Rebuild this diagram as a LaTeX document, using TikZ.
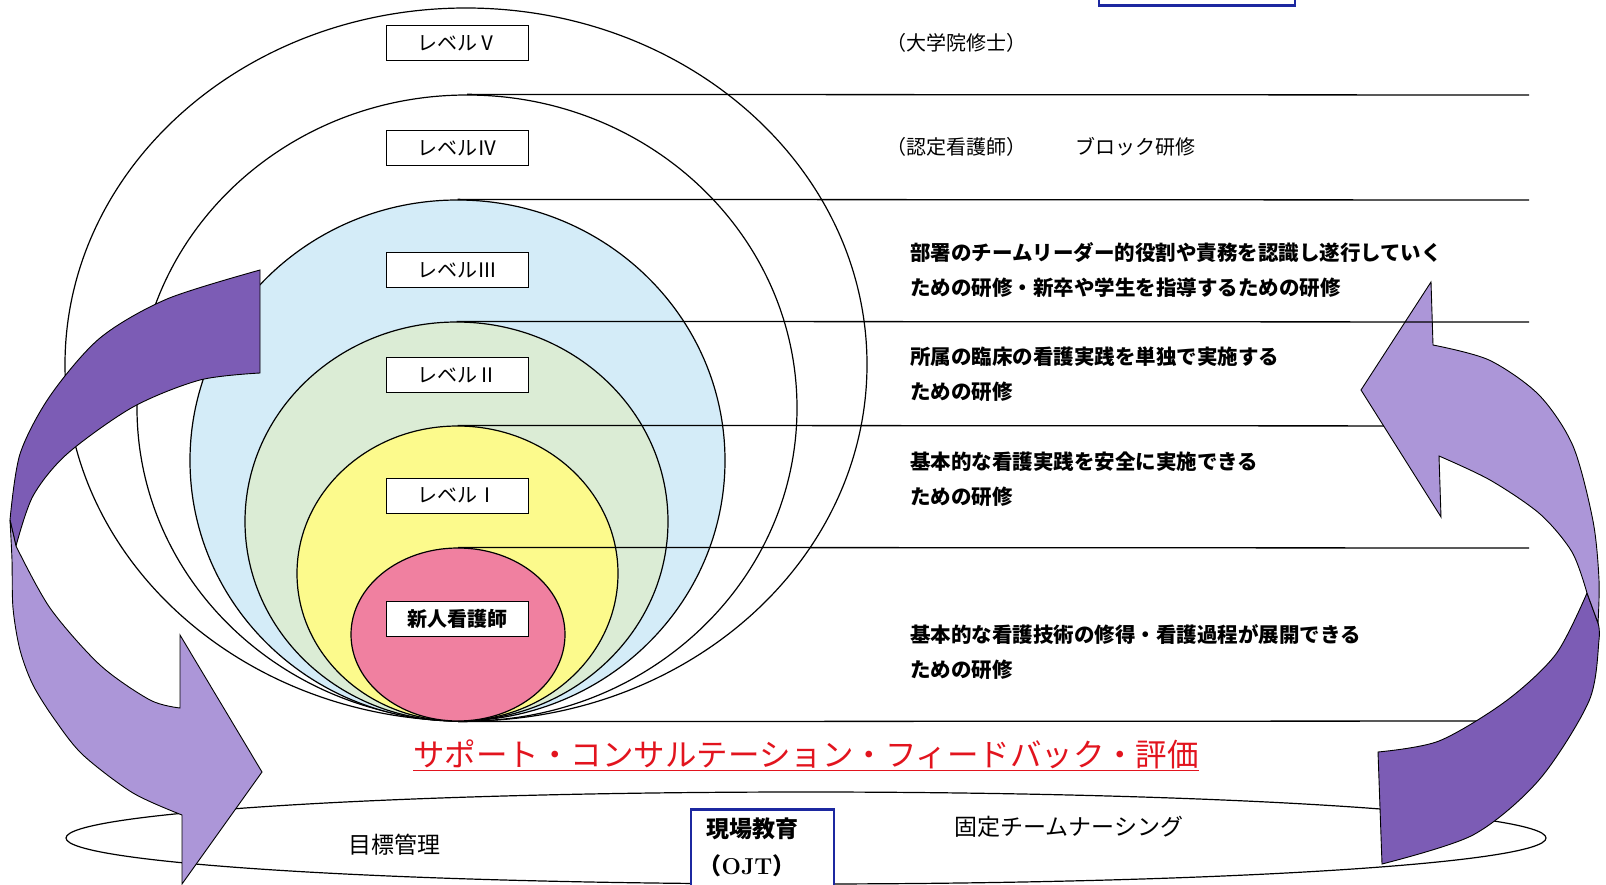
\documentclass[tikz,border=0pt]{standalone}
\usepackage{fontspec}
\newfontfamily\jpfont{Noto Sans CJK JP}
\usetikzlibrary{shapes.geometric}

\definecolor{levelblue}{RGB}{212,236,248}
\definecolor{levelgreen}{RGB}{219,236,213}
\definecolor{levelyellow}{RGB}{252,250,140}
\definecolor{levelpink}{RGB}{240,128,160}
\definecolor{arrowdark}{RGB}{124,92,181}
\definecolor{arrowlight}{RGB}{172,150,216}
\definecolor{boxblue}{RGB}{28,40,160}
\definecolor{supportred}{RGB}{226,20,30}

\begin{document}
\begin{tikzpicture}[x=1pt,y=-1pt,
    level/.style={ellipse,draw,line width=1.2pt,inner sep=0pt},
    levelbox/.style={draw,fill=white,line width=0.9pt,minimum width=142pt,minimum height=35pt,inner sep=0pt,font=\labelfontsize},
    rule/.style={line width=1.3pt},
    desc/.style={anchor=west,align=left,inner sep=0pt,font=\descfontsize},
    note/.style={anchor=west,inner sep=0pt,font=\notefontsize},
    bluebox/.style={draw=boxblue,line width=2.5pt,inner sep=0pt},
    ribbon/.style={draw=black,line width=0.9pt}]
    \pgfmathsetmacro{\lineend}{1529}
    \providecommand{\labelfontsize}{\jpfont\fontsize{20}{24}\selectfont}
    \providecommand{\descfontsize}{\jpfont\bfseries\fontsize{20.5}{35}\selectfont}
    \providecommand{\notefontsize}{\jpfont\fontsize{20}{24}\selectfont}
    \providecommand{\groundfontsize}{\jpfont\fontsize{23}{26}\selectfont}
    \providecommand{\supportfontsize}{\jpfont\fontsize{31.5}{36}\selectfont}
    \fill[white] (0,0) rectangle (1606,885);
    \useasboundingbox (0,0) rectangle (1606,885);
    % levels, largest first
    \node[level,fill=white,minimum width=802pt,minimum height=713pt] (lvV) at (466,364.5) {};
    \node[level,fill=white,minimum width=660pt,minimum height=626pt] (lvIV) at (467,408) {};
    \node[level,fill=levelblue,minimum width=535pt,minimum height=521pt] (lvIII) at (457.5,460.5) {};
    \node[level,fill=levelgreen,minimum width=423pt,minimum height=399pt] (lvII) at (456.5,521.5) {};
    \node[level,fill=levelyellow,minimum width=321pt,minimum height=295pt] (lvI) at (457.5,573.5) {};
    \node[level,fill=levelpink,minimum width=214pt,minimum height=173pt] (lvN) at (458,634.5) {};
    \node[levelbox] (boxV) at (457,43) {レベルⅤ};
    \node[levelbox] (boxIV) at (457,148) {レベルⅣ};
    \node[levelbox] (boxIII) at (457,270) {レベルⅢ};
    \node[levelbox] (boxII) at (457,375) {レベルⅡ};
    \node[levelbox] (boxI) at (457,495.5) {レベルⅠ};
    \node[levelbox,font=\labelfontsize\bfseries] (boxN) at (457,618.5) {新人看護師};
    \coordinate (endIV) at (\lineend,95);
    \coordinate (endIII) at (\lineend,200);
    \coordinate (endII) at (\lineend,322);
    \coordinate (endI) at (\lineend,426);
    \coordinate (endN) at (\lineend,548);
    \coordinate (endB) at (\lineend,721);
    \draw[rule] (lvIV.north) -- (endIV);
    \draw[rule] (lvIII.north) -- (endIII);
    \draw[rule] (lvI.north) -- (endI);
    \draw[rule] (lvN.north) -- (endN);
    \draw[rule] (lvN.south) -- (endB);
    \node[note] (dV) at (886,43) {（大学院修士）};
    \node[note] (dIV) at (886,147) {（認定看護師）};
    \node[note] (dIVb) at (1075,147) {ブロック研修};
    \node[desc] (dIII) at (910,270) {部署のチームリーダー的役割や責務を認識し遂行していく\\ための研修・新卒や学生を指導するための研修};
    \node[desc] (dII) at (910,374.5) {所属の臨床の看護実践を単独で実施する\\ための研修};
    \node[desc] (dI) at (910,479.5) {基本的な看護実践を安全に実施できる\\ための研修};
    \node[desc] (dN) at (910,652.5) {基本的な看護技術の修得・看護過程が展開できる\\ための研修};
    \node[anchor=base,inner sep=0pt,text=supportred,font=\supportfontsize] (support) at (806,766) {\underline{サポート・コンサルテーション・フィードバック・評価}};
    % ground
    \node[ellipse,draw,line width=1.2pt,inner sep=0pt,minimum width=1480pt,minimum height=92pt] (ground) at (806,838) {};
    \node[inner sep=0pt,font=\groundfontsize] (goal) at (394,845) {目標管理};
    \node[note,font=\groundfontsize] (team) at (954,827) {固定チームナーシング};
    \node[bluebox,fill=white,minimum width=143pt,minimum height=100pt,anchor=north] (ojt) at (762.5,808) {};
    \node[inner sep=0pt,font=\groundfontsize\bfseries] (ojtA) at (752,829) {現場教育};
    \node[inner sep=0pt,font=\groundfontsize\bfseries] (ojtB) at (747,866) {（{\rmfamily OJT}）};
    \node[bluebox,minimum width=196pt,minimum height=40pt,anchor=south] (topbox) at (1197,7) {};
    % left ribbon
    \filldraw[ribbon,fill=arrowdark] plot[smooth] coordinates {(260,270) (167,299) (100,338) (50,396) (20,454) (10,520)}
        -- plot[smooth] coordinates {(16,546) (33,496) (67,454) (133,407) (200,380) (260,373)} -- cycle;
    \filldraw[ribbon,fill=arrowlight] plot[smooth] coordinates {(10,520) (12,560) (13,608) (20,650) (33,685) (55,720) (83,755) (133,793) (182,815)}
        -- (182,884) -- (262,772) -- (180,635)
        -- plot[smooth] coordinates {(180,708) (150,700) (100,665) (50,608) (16,546)} -- cycle;
    % right ribbon
    \filldraw[ribbon,fill=arrowdark] plot[smooth] coordinates {(1378,752) (1439,741) (1506,701) (1556,654) (1587,593)}
        -- plot[smooth] coordinates {(1598,623) (1599,640) (1589,701) (1539,780) (1473,835) (1382,864)} -- cycle;
    \filldraw[ribbon,fill=arrowlight] plot[smooth] coordinates {(1587,593) (1572,552) (1540,514) (1490,480) (1439,456)}
        -- (1441,517) -- (1361,390) -- (1431,282)
        -- plot[smooth] coordinates {(1433,345) (1489,360) (1539,395) (1573,446) (1593,521) (1599,580) (1598,623)} -- cycle;
    % this one lies over the arrow head
    \draw[rule] (lvII.north) -- (endII);
\end{tikzpicture}
\end{document}
